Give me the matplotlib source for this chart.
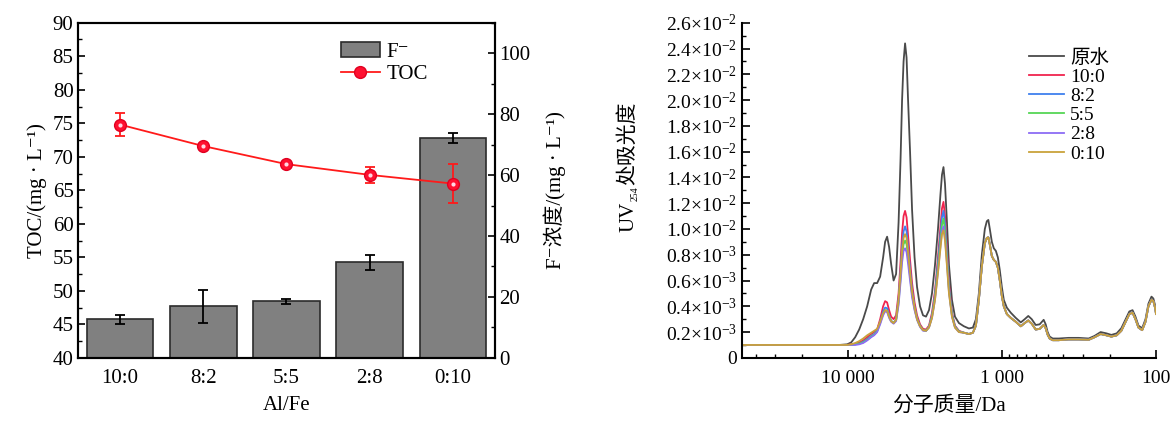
import numpy as np
import matplotlib
matplotlib.use('Agg')
import matplotlib.pyplot as plt
from matplotlib.ticker import MultipleLocator, NullFormatter, LogLocator

plt.rcParams['font.family'] = ['Liberation Serif', 'Noto Sans CJK SC', 'DejaVu Sans']
plt.rcParams['mathtext.fontset'] = 'custom'
plt.rcParams['mathtext.rm'] = 'Liberation Serif'
plt.rcParams['mathtext.it'] = 'Liberation Serif:italic'

# ---- left chart data ----
ratios = ['10:0', '8:2', '5:5', '2:8', '0:10']
f_conc = [12.6, 17.0, 18.5, 31.4, 72.2]
f_err = [1.6, 5.4, 0.9, 2.5, 1.6]
toc = [74.8, 71.6, 68.9, 67.3, 66.0]
toc_err = [1.7, 0.3, 0.3, 1.2, 2.95]

# ---- right chart data: molecular weight (Da) and UV254 absorbance (axis label units) ----
mw_head = [49000, 28000, 15400, 11440, 10150, 9560, 9010, 8485, 7995, 7530,
           7093, 6783, 6487, 6202, 5931, 5757, 5588, 5424, 5265, 5071,
           4886, 4707, 4568, 4467, 4368, 4271, 4177, 4084, 3964, 3847,
           3707, 3571, 3415, 3265, 3122, 2986, 2855, 2730, 2610, 2515,
           2459, 2404, 2350, 2282, 2215, 2118, 2025, 1908]
mw_tail = [1771, 1643, 1548, 1480, 1416, 1354, 1295, 1257, 1229, 1202,
           1166, 1132, 1098, 1066, 1035, 1004, 975, 932, 878, 815,
           756, 713, 676, 642, 605, 570, 537, 521, 506, 491,
           469, 429, 370, 318, 274, 251, 229, 210, 195, 180,
           168, 156, 149, 142, 136, 130, 123, 117, 112, 107,
           104, 101, 100]

raw_head = [0.10, 0.10, 0.10, 0.10, 0.105, 0.12, 0.16, 0.22, 0.30, 0.40,
            0.53, 0.58, 0.58, 0.63, 0.78, 0.90, 0.94, 0.86, 0.73, 0.60,
            0.65, 1.05, 1.55, 2.00, 2.30, 2.44, 2.33, 2.00, 1.60, 1.15,
            0.78, 0.55, 0.40, 0.33, 0.32, 0.37, 0.50, 0.72, 1.00, 1.27,
            1.42, 1.48, 1.35, 1.05, 0.72, 0.45, 0.32, 0.27]
raw_tail = [0.245, 0.228, 0.235, 0.30, 0.50, 0.80, 1.00, 1.06, 1.07, 1.00,
            0.90, 0.85, 0.83, 0.78, 0.68, 0.55, 0.45, 0.39, 0.35, 0.31,
            0.275, 0.30, 0.325, 0.30, 0.255, 0.26, 0.295, 0.26, 0.20, 0.165,
            0.15, 0.15, 0.155, 0.155, 0.15, 0.17, 0.20, 0.19, 0.178, 0.19,
            0.23, 0.31, 0.36, 0.37, 0.32, 0.25, 0.23, 0.30, 0.42, 0.475,
            0.46, 0.40, 0.35]
head_10_0 = [0.10, 0.10, 0.10, 0.10, 0.10, 0.105, 0.11, 0.12, 0.135, 0.16,
             0.185, 0.20, 0.22, 0.30, 0.40, 0.44, 0.43, 0.37, 0.32, 0.30,
             0.33, 0.50, 0.75, 0.97, 1.10, 1.14, 1.09, 0.95, 0.76, 0.58,
             0.43, 0.33, 0.26, 0.225, 0.22, 0.25, 0.35, 0.52, 0.78, 1.02,
             1.16, 1.21, 1.10, 0.85, 0.58, 0.35, 0.25, 0.21]
head_8_2 = [0.10, 0.10, 0.10, 0.10, 0.10, 0.10, 0.105, 0.11, 0.125, 0.145,
            0.17, 0.185, 0.21, 0.28, 0.36, 0.39, 0.385, 0.33, 0.29, 0.27,
            0.30, 0.46, 0.68, 0.87, 0.98, 1.02, 0.98, 0.86, 0.69, 0.53,
            0.40, 0.31, 0.25, 0.215, 0.21, 0.24, 0.33, 0.49, 0.74, 0.96,
            1.09, 1.14, 1.04, 0.80, 0.55, 0.34, 0.245, 0.205]
head_5_5 = [0.10, 0.10, 0.10, 0.10, 0.10, 0.10, 0.105, 0.11, 0.12, 0.14,
            0.165, 0.18, 0.205, 0.27, 0.34, 0.37, 0.365, 0.32, 0.285, 0.27,
            0.29, 0.43, 0.62, 0.79, 0.88, 0.91, 0.88, 0.78, 0.63, 0.49,
            0.38, 0.30, 0.245, 0.215, 0.21, 0.24, 0.32, 0.47, 0.70, 0.91,
            1.03, 1.08, 0.99, 0.77, 0.53, 0.33, 0.24, 0.205]
head_2_8 = [0.10, 0.10, 0.10, 0.10, 0.10, 0.10, 0.10, 0.105, 0.115, 0.135,
            0.16, 0.175, 0.20, 0.26, 0.33, 0.36, 0.355, 0.31, 0.28, 0.265,
            0.285, 0.41, 0.59, 0.74, 0.83, 0.85, 0.82, 0.73, 0.60, 0.47,
            0.37, 0.295, 0.24, 0.21, 0.21, 0.235, 0.31, 0.45, 0.67, 0.87,
            0.98, 1.02, 0.94, 0.73, 0.51, 0.32, 0.235, 0.20]
head_0_10 = [0.10, 0.10, 0.10, 0.10, 0.10, 0.105, 0.115, 0.13, 0.15, 0.175,
             0.195, 0.21, 0.225, 0.28, 0.345, 0.37, 0.365, 0.32, 0.285, 0.27,
             0.295, 0.45, 0.66, 0.83, 0.93, 0.96, 0.93, 0.82, 0.66, 0.51,
             0.39, 0.30, 0.245, 0.215, 0.21, 0.235, 0.31, 0.45, 0.66, 0.85,
             0.96, 0.99, 0.91, 0.71, 0.50, 0.32, 0.235, 0.20]
# treated samples run almost on top of each other below ~1 800 Da
treated_tail = [0.195, 0.185, 0.195, 0.25, 0.45, 0.71, 0.89, 0.93, 0.935, 0.88,
                0.79, 0.76, 0.745, 0.70, 0.60, 0.48, 0.40, 0.34, 0.31, 0.28,
                0.245, 0.27, 0.29, 0.265, 0.22, 0.225, 0.255, 0.23, 0.18, 0.15,
                0.137, 0.137, 0.143, 0.143, 0.14, 0.16, 0.185, 0.175, 0.165, 0.175,
                0.21, 0.29, 0.34, 0.35, 0.30, 0.235, 0.215, 0.28, 0.40, 0.45,
                0.44, 0.38, 0.34]

series_names = ['原水', '10:0', '8:2', '5:5', '2:8', '0:10']
series_colors = ['#4a4a4a', '#f0244e', '#3f80ee', '#55d655', '#8c6cf5', '#c9a23a']
uv_ticks = [0, 0.2, 0.4, 0.6, 0.8, 1.0, 1.2, 1.4, 1.6, 1.8, 2.0, 2.2, 2.4, 2.6]
uv_labels = ['0', '0.2×10$^{-3}$', '0.4×10$^{-3}$', '0.6×10$^{-3}$', '0.8×10$^{-3}$',
             '1.0×10$^{-2}$', '1.2×10$^{-2}$', '1.4×10$^{-2}$', '1.6×10$^{-2}$', '1.8×10$^{-2}$',
             '2.0×10$^{-2}$', '2.2×10$^{-2}$', '2.4×10$^{-2}$', '2.6×10$^{-2}$']

fs = 15
fs_r = 14
W, H = 1171, 421
fig = plt.figure(figsize=(W / 100, H / 100), dpi=100)

# ---------------- left chart ----------------
ax1 = fig.add_axes([0.067, 0.150, 0.3553, 0.796])
ax2 = ax1.twinx()
x = np.arange(len(ratios))
ax2.bar(x, f_conc, width=0.8, color='#808080', edgecolor='#2b2b2b', linewidth=1.2,
        yerr=f_err, error_kw=dict(ecolor='black', elinewidth=1.3, capsize=3.5, capthick=1.3),
        label='F⁻', zorder=2)
ax2.set_ylim(0, 110)
ax2.yaxis.set_major_locator(MultipleLocator(20))
ax2.yaxis.set_minor_locator(MultipleLocator(10))
ax2.set_ylabel('F⁻浓度/(mg · L⁻¹)', fontsize=fs, labelpad=9)

ax1.set_zorder(ax2.get_zorder() + 1)
ax1.patch.set_visible(False)
ax1.errorbar(x, toc, yerr=toc_err, fmt='none', ecolor='#ff1a1a', elinewidth=1.3,
             capsize=3.5, capthick=1.3, zorder=3)
ax1.plot(x, toc, color='#ff1a1a', lw=1.3, marker='o', ms=8.5,
         markerfacecolor='#ff1030', markeredgecolor='#e00020', label='TOC', zorder=4)
ax1.plot(x, toc, ls='none', marker='o', ms=3, markerfacecolor='#ffd6e2',
         markeredgecolor='none', zorder=5)
ax1.set_ylim(40, 90)
ax1.set_xlim(-0.5, 4.5)
ax1.yaxis.set_major_locator(MultipleLocator(5))
ax1.yaxis.set_minor_locator(MultipleLocator(2.5))
ax1.set_xticks(x)
ax1.set_xticklabels(ratios)
ax1.set_xlabel('Al/Fe', fontsize=fs, labelpad=6)
ax1.set_ylabel('TOC/(mg · L⁻¹)', fontsize=fs, labelpad=4)
for a in (ax1, ax2):
    a.tick_params(axis='y', which='major', direction='in', length=5, width=1.2, labelsize=fs)
    a.tick_params(axis='y', which='minor', direction='in', length=3, width=1)
    a.tick_params(axis='x', length=0, labelsize=fs, pad=8)
    for s in a.spines.values():
        s.set_linewidth(1.5)

h2, l2 = ax2.get_legend_handles_labels()
h1, l1 = ax1.get_legend_handles_labels()
ax1.legend(h2 + h1, l2 + l1, loc='upper left', bbox_to_anchor=(0.6, 0.98), frameon=False,
           fontsize=fs, handlelength=1.9, handletextpad=0.3, labelspacing=0.15, borderaxespad=0.2)

# ---------------- right chart ----------------
ax3 = fig.add_axes([742 / W, 0.150, (1156 - 742) / W, 0.796])
curves = [raw_head + raw_tail, head_10_0 + treated_tail, head_8_2 + treated_tail,
          head_5_5 + treated_tail, head_2_8 + treated_tail, head_0_10 + treated_tail]
mw = mw_head + mw_tail
for ys, name, c in zip(curves, series_names, series_colors):
    ax3.plot(mw, ys, color=c, lw=1.3, label=name)
ax3.set_xscale('log')
ax3.set_xlim(49000, 100)
ax3.set_ylim(0, 2.6)
ax3.set_xticks([10000, 1000, 100])
ax3.set_xticklabels(['10 000', '1 000', '100'])
ax3.xaxis.set_minor_locator(LogLocator(base=10, subs=np.arange(2, 10)))
ax3.xaxis.set_minor_formatter(NullFormatter())
ax3.set_yticks(uv_ticks)
ax3.set_yticklabels(uv_labels)
ax3.yaxis.set_minor_locator(MultipleLocator(0.1))
ax3.spines['top'].set_visible(False)
ax3.spines['right'].set_visible(False)
for s in ('left', 'bottom'):
    ax3.spines[s].set_linewidth(1.5)
ax3.tick_params(which='major', direction='in', length=6, width=1.2, labelsize=fs_r)
ax3.tick_params(which='minor', direction='in', length=3, width=1)
ax3.tick_params(axis='x', pad=9)
ax3.set_xlabel('分子质量/Da', fontsize=fs, labelpad=6)
ax3.legend(loc='upper left', bbox_to_anchor=(0.665, 0.957), frameon=False, fontsize=fs_r,
           handlelength=1.8, handletextpad=0.3, labelspacing=0.08, borderaxespad=0.2)

# y label "UV254处吸光度" built from pieces so the subscript and CJK glyphs both render
renderer = fig.canvas.get_renderer()
base_x = 633 / W
t_uv = fig.text(base_x, 1 - 232 / H, 'UV', rotation=90, rotation_mode='anchor',
                ha='left', va='baseline', fontsize=fs)
y_next = t_uv.get_window_extent(renderer).y1 / H
t_sub = fig.text(base_x + 5 / W, y_next + 1 / H, '254', rotation=90, rotation_mode='anchor',
                 ha='left', va='baseline', fontsize=7)
y_next = t_sub.get_window_extent(renderer).y1 / H
fig.text(base_x, y_next + 1 / H, '处吸光度', rotation=90, rotation_mode='anchor',
         ha='left', va='baseline', fontsize=fs)

fig.savefig('out.png', dpi=100)
